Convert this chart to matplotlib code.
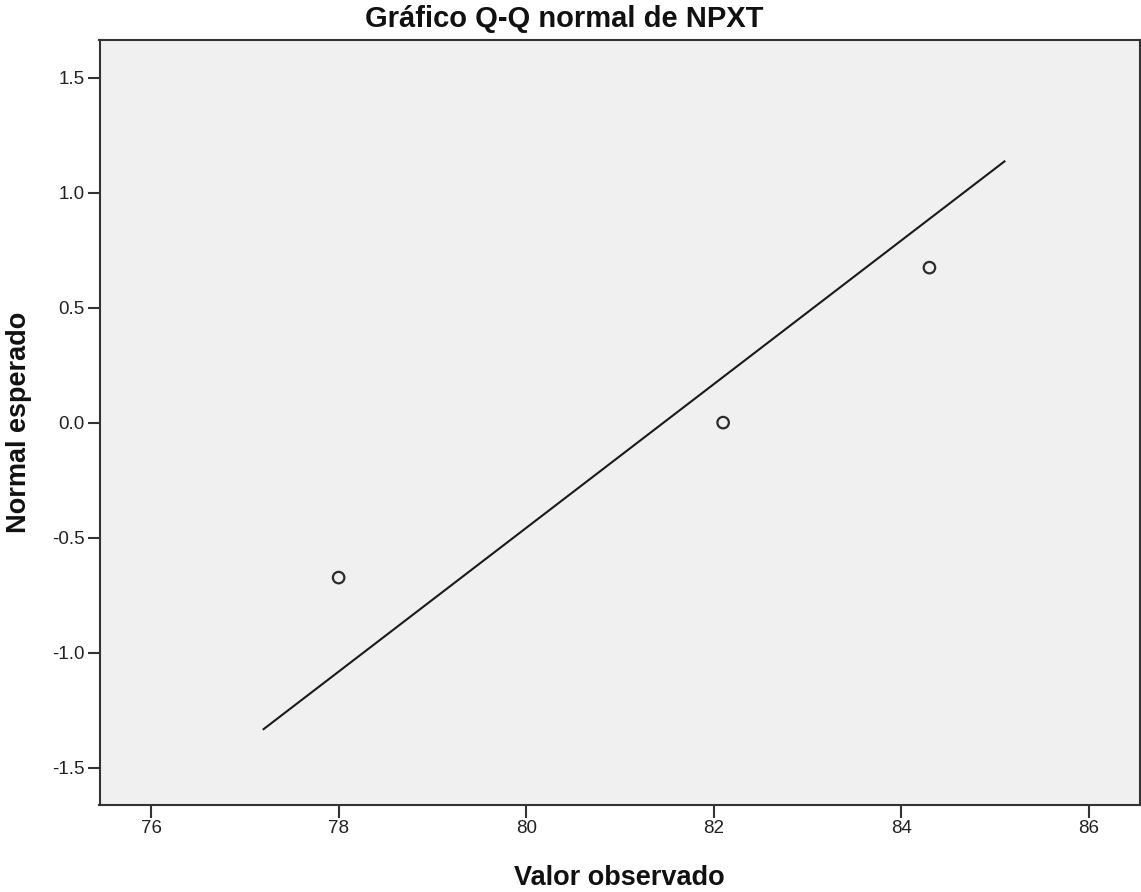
import matplotlib
matplotlib.use("Agg")
import matplotlib.pyplot as plt

plt.rcParams['font.family'] = ['Liberation Sans', 'DejaVu Sans']

observed = [78.0, 82.1, 84.3]
expected = [-0.674, 0.0, 0.674]
line_x = [77.2, 85.1]
line_y = [-1.333, 1.136]
xticks = [76, 78, 80, 82, 84, 86]
yticks = [-1.5, -1.0, -0.5, 0.0, 0.5, 1.0, 1.5]

W, H = 1141, 892
fig = plt.figure(figsize=(W / 100, H / 100), dpi=100)
left_px, right_px, top_px, bottom_px = 99.5, 1139.5, 40, 805
ax = fig.add_axes([left_px / W, 1 - bottom_px / H,
                   (right_px - left_px) / W, (bottom_px - top_px) / H])
ax.set_facecolor('#F0F0F0')

ax.plot(line_x, line_y, color='#1a1a1a', lw=1.5)
ax.scatter(observed, expected, s=68, facecolors='none', edgecolors='#2b2b2b',
           linewidths=1.6, zorder=3)

ax.set_xlim(75.45, 86.54)
ax.set_ylim(-1.663, 1.664)
ax.set_xticks(xticks)
ax.set_xticklabels([str(t) for t in xticks])
ax.set_yticks(yticks)
ax.set_yticklabels([f"{t:.1f}" for t in yticks])
ax.tick_params(axis='both', length=9, width=1.5, color='#333333',
               labelsize=13.5, labelcolor='#222222')
ax.tick_params(axis='x', pad=1.5)
ax.tick_params(axis='y', pad=1.5)
for s in ax.spines.values():
    s.set_color('#333333')
    s.set_linewidth(1.5)

fig.text((left_px + right_px) / 2 / W, 1 - 885 / H, 'Valor observado',
         fontsize=19.5, fontweight='bold', ha='center', va='baseline', color='#111111')
fig.text(26 / W, 1 - (top_px + bottom_px) / 2 / H, 'Normal esperado',
         fontsize=19.5, fontweight='bold', ha='center', va='baseline',
         rotation=90, rotation_mode='anchor', color='#111111')
fig.text(564 / W, 1 - 27 / H, 'Gráfico Q-Q normal de NPXT',
         fontsize=21, fontweight='bold', ha='center', va='baseline', color='#111111')

fig.savefig('out.png', dpi=100, facecolor='white')
